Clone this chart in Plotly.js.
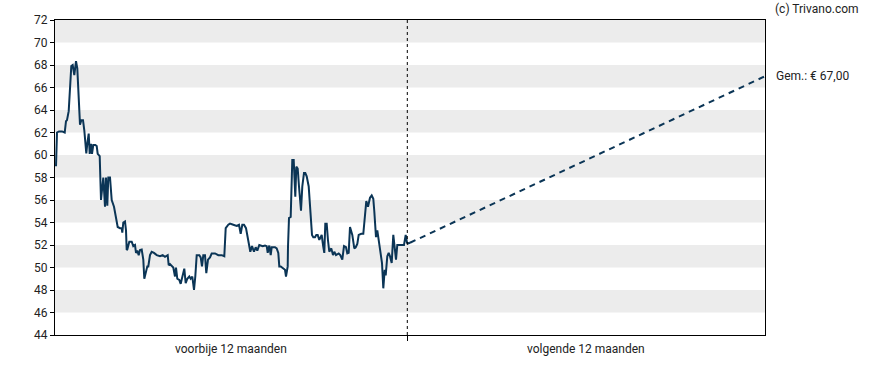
<!DOCTYPE html>
<html>
<head>
<meta charset="utf-8">
<script src="https://cdn.plot.ly/plotly-3.0.1.min.js"></script>
<style>html,body{margin:0;padding:0;background:#fff}#chart{width:888px;height:370px}</style>
</head>
<body>
<div id="chart"></div>
<script>
// Past 12 months: day offset and price (EUR)
const pastDay = [1,2,4,7,9.7,11,12,13.7,16.3,17.7,19.3,21,22.3,23.7,25,26.3,28,29.3,30.3,31.3,32.3,33.7,34.7,36,37,38.3,40.3,41.7,42.7,44.7,46,48.3,50,51,52.3,53.3,55,56.7,59,61,62.7,65,66.7,67.3,68.3,70,71,71.7,72.3,74.3,76.7,78.3,80,81,82.3,83.7,85,86.7,88.3,89.3,91,92.3,93.3,95,96.7,99,101.7,105,107.7,110,112.7,113.7,115,116.7,118.3,120,121,122.3,124.3,125.7,127.7,129.3,130.7,132.3,134.3,135.7,137.3,139,140.3,141.7,144.3,145.7,147,148.3,150,151.3,153,155,156.7,160,163.3,166.7,169.3,170.7,173.3,175,178.3,181.7,184,185.7,187.3,189,191,192.3,193.7,195.3,197,199,200.7,202.3,204.3,207.7,210,211.7,212.7,214.3,215.7,216.7,220,221.7,223.3,224.3,225.7,228,230,231,232.7,233,234,235.7,237.3,238.7,240.3,241.3,242.7,244,246,247.3,249,250.3,251.7,253.7,255.3,257,258.3,260,261.3,262.7,264.3,266.7,268,269.3,270.3,271.7,273,274.3,276.3,278,279.3,281,283.7,285.3,287.3,289,291,292.3,293.7,295,297.3,299.3,300.7,302.3,303.7,306.3,308.3,310,311.3,313,315,316.7,318.3,319.3,321,322.3,323.7,325.3,327,328.3,329.7,330.7,332.3,333.7,335,336.7,338.3,341,342.3,346.7,349,350.7,352,353.3,355];
const pastPrice = [59.0,62.0,62.1,62.1,62.0,63.0,63.1,63.9,67.9,68.0,67.1,68.35,67.7,65.5,62.7,63.1,63.1,62.2,61.0,60.15,61.0,61.9,60.1,61.0,60.1,60.9,60.9,60.8,60.1,59.9,56.0,58.0,55.4,58.0,55.5,58.0,58.0,56.0,55.4,54.2,53.6,53.5,53.5,53.1,54.0,54.1,53.3,51.55,51.6,52.3,52.3,51.9,52.0,51.3,51.5,51.1,51.55,51.6,50.7,49.0,49.8,50.1,50.1,51.1,51.4,51.3,51.1,51.0,51.1,50.95,51.1,50.2,50.3,50.1,50.0,49.2,50.0,49.0,48.9,48.55,49.2,49.9,48.6,49.0,49.2,49.0,49.2,48.0,49.2,51.1,51.1,50.9,50.1,51.1,51.1,49.5,50.7,50.9,51.25,51.25,51.1,51.1,51.0,53.5,53.8,53.9,53.8,53.7,53.8,53.0,53.8,53.8,53.5,52.9,52.15,51.4,51.9,51.4,51.8,51.5,52.0,51.9,51.95,51.9,51.3,51.95,51.1,51.8,51.8,51.7,51.3,50.1,50.1,49.95,49.8,49.2,50.1,51.85,54.4,54.5,59.55,59.55,56.3,58.96,58.8,57.2,55.05,57.2,58.4,58.4,58.1,57.2,55.4,52.9,52.7,52.7,52.9,52.9,52.45,52.9,52.0,51.3,53.9,53.9,52.4,51.4,51.7,51.1,51.4,51.1,51.25,51.1,50.7,51.9,51.8,51.25,51.3,53.6,52.9,51.7,51.8,52.1,52.9,53.0,53.0,54.5,55.9,55.4,56.2,56.4,56.1,55.0,52.7,53.3,52.4,51.55,50.4,48.15,49.8,49.3,51.0,51.3,51.0,50.4,52.9,50.7,52.0,52.0,52.0,52.9,52.2,52.15,52.2];
// Forecast: from last price to average target
const forecastDay = [355, 710];
const forecastPrice = [52.2, 67.0];
const dividerDay = 352.3;
const periodLabels = ['voorbije 12 maanden', 'volgende 12 maanden'];
const periodCenters = [176, 531];
const targetLabel = 'Gem.: € 67,00';
const targetValue = 67.0;
const credit = '(c) Trivano.com';
const yTicks = [44,46,48,50,52,54,56,58,60,62,64,66,68,70,72];
const bandStarts = [46,50,54,58,62,66,70];

const lineColor = '#0b3556';
const fontFam = 'Roboto, "Noto Sans", sans-serif';

// Fix past price list length to match day list
const n = Math.min(pastDay.length, pastPrice.length);
const traces = [
  {x: pastDay.slice(0, n), y: pastPrice.slice(0, n), type: 'scatter', mode: 'lines',
   line: {color: lineColor, width: 2}, hoverinfo: 'skip'},
  {x: forecastDay, y: forecastPrice, type: 'scatter', mode: 'lines',
   line: {color: lineColor, width: 2, dash: '6px,5px'}, hoverinfo: 'skip'}
];

const shapes = bandStarts.map(b => ({type: 'rect', xref: 'paper', yref: 'y', x0: 0, x1: 1, y0: b, y1: b + 2,
  fillcolor: '#ececec', line: {width: 0}, layer: 'below'}));
shapes.push({type: 'line', xref: 'x', yref: 'paper', x0: dividerDay, x1: dividerDay, y0: 0, y1: 1,
  line: {color: '#000', width: 1, dash: 'dot'}});

const annotations = periodLabels.map((t, i) => ({text: t, x: periodCenters[i], xref: 'x', y: -0.044, yref: 'paper',
  showarrow: false, xanchor: 'center', yanchor: 'middle', font: {family: fontFam, size: 12, color: '#222'}}));
annotations.push({text: targetLabel, x: 1.0127, xref: 'paper', y: targetValue, yref: 'y', showarrow: false,
  xanchor: 'left', yanchor: 'middle', font: {family: fontFam, size: 12, color: '#222'}});
annotations.push({text: credit, x: 1.011, xref: 'paper', y: 1.036, yref: 'paper', showarrow: false,
  xanchor: 'left', yanchor: 'middle', font: {family: fontFam, size: 12, color: '#222'}});

const layout = {
  width: 888, height: 370,
  margin: {l: 55, r: 123, t: 20, b: 35, pad: 0},
  paper_bgcolor: '#fff', plot_bgcolor: '#fff',
  showlegend: false,
  font: {family: fontFam, size: 12, color: '#222'},
  xaxis: {range: [0, 710], showgrid: false, zeroline: false, showline: true, linecolor: '#000', linewidth: 1,
    mirror: true, tickvals: [dividerDay], ticktext: [''], ticks: 'outside', ticklen: 5, tickcolor: '#000', fixedrange: true},
  yaxis: {range: [44, 72], tickvals: yTicks, ticktext: yTicks.map(String), showgrid: false, zeroline: false,
    showline: true, linecolor: '#000', linewidth: 1, mirror: true, ticks: 'outside', ticklen: 4, tickcolor: '#000',
    tickfont: {family: fontFam, size: 12, color: '#222'}, fixedrange: true},
  shapes: shapes,
  annotations: annotations
};

Plotly.newPlot('chart', traces, layout, {displayModeBar: false, staticPlot: true});
</script>
</body>
</html>
